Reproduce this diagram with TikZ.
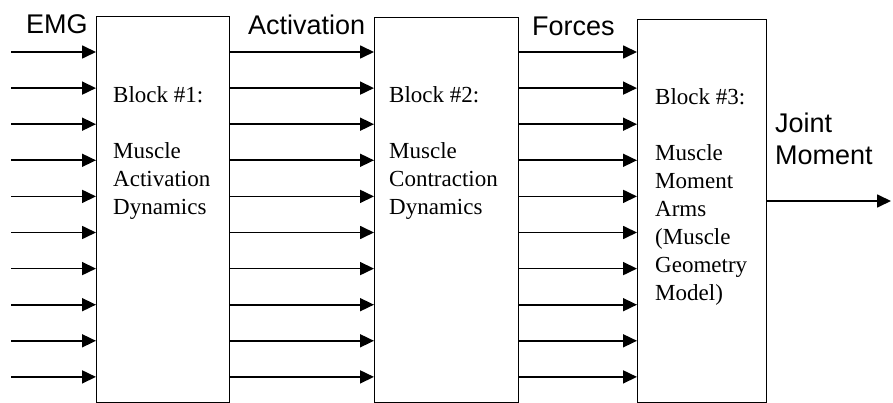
\documentclass[tikz,border=0pt]{standalone}
\usepackage{fontspec}
\setmainfont{Liberation Serif}
\newfontfamily\labfont{Liberation Sans}
\usetikzlibrary{arrows.meta}
\begin{document}
\begin{tikzpicture}[x=1pt,y=-1pt,
  blockbox/.style={draw,line width=1.3pt,inner sep=0pt,anchor=north west},
  sig/.style={line width=1.7pt,-{Triangle[length=14pt,width=13pt]}},
  lbl/.style={font=\labfont\fontsize{27}{32}\selectfont,inner sep=0pt,anchor=base west},
  btxt/.style={font=\fontsize{23}{28}\selectfont,inner sep=0pt,anchor=base west}]
\useasboundingbox[fill=white] (0,0) rectangle (893,403);
% blocks
\node[blockbox,minimum width=133pt,minimum height=386pt] (b1) at (96,16) {};
\node[blockbox,minimum width=144pt,minimum height=385pt] (b2) at (374,17) {};
\node[blockbox,minimum width=129pt,minimum height=383pt] (b3) at (637,19) {};
% block texts
\node[btxt] (t1) at (113,103) {\begin{tabular}[t]{@{}l@{}}Block \#1:\\ \\ Muscle\\ Activation\\ Dynamics\end{tabular}};
\node[btxt] (t2) at (389,103) {\begin{tabular}[t]{@{}l@{}}Block \#2:\\ \\ Muscle\\ Contraction\\ Dynamics\end{tabular}};
\node[btxt] (t3) at (655,105) {\begin{tabular}[t]{@{}l@{}}Block \#3:\\ \\ Muscle\\ Moment\\ Arms\\ (Muscle\\ Geometry\\ Model)\end{tabular}};
% labels
\node[lbl] (lemg) at (26,34) {EMG};
\node[lbl] (lact) at (248,35) {Activation};
\node[lbl] (lfor) at (532,36) {Forces};
\node[lbl] (ljm) at (775,133) {\begin{tabular}[t]{@{}l@{}}Joint\\ Moment\end{tabular}};
% signal arrows
\foreach \i in {0,...,9}{
  \pgfmathsetmacro\yy{52+36.1*\i}
  \coordinate (s\i) at (11,\yy);
  \draw[sig] (s\i) -- (s\i -| b1.west);
  \draw[sig] (s\i -| b1.east) -- (s\i -| b2.west);
  \draw[sig] (s\i -| b2.east) -- (s\i -| b3.west);
}
\coordinate (out) at (891,201);
\draw[sig] (b3.east |- out) -- (out);
\end{tikzpicture}
\end{document}
